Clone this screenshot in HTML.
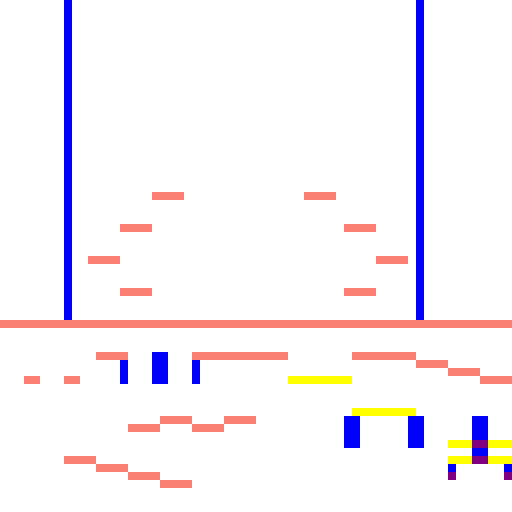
<!DOCTYPE html>
<html>
<head>
<meta charset="utf-8">
<style>
html,body{margin:0;padding:0;background:#fff;}
svg{display:block;}
</style>
</head>
<body>
<svg id="art" width="512" height="512" viewBox="0 0 512 512" shape-rendering="crispEdges">
<rect x="0" y="0" width="512" height="512" fill="#ffffff"/>
</svg>
<script>
const SAL = "#FA8072", BLU = "#0000FF", YEL = "#FFFF00", PUR = "#800080";
const blocks = [
  [64,0,8,320,BLU],[416,0,8,320,BLU],[0,320,512,8,SAL],
  [152,192,32,8,SAL],[120,224,32,8,SAL],[88,256,32,8,SAL],[120,288,32,8,SAL],
  [304,192,32,8,SAL],[344,224,32,8,SAL],[376,256,32,8,SAL],[344,288,32,8,SAL],
  [96,352,32,8,SAL],[120,360,8,24,BLU],[152,352,16,32,BLU],[192,352,96,8,SAL],[192,360,8,24,BLU],
  [24,376,16,8,SAL],[64,376,16,8,SAL],
  [160,416,32,8,SAL],[128,424,32,8,SAL],[192,424,32,8,SAL],[224,416,32,8,SAL],
  [64,456,32,8,SAL],[96,464,32,8,SAL],[128,472,32,8,SAL],[160,480,32,8,SAL],
  [288,376,64,8,YEL],
  [352,352,64,8,SAL],[416,360,32,8,SAL],[448,368,32,8,SAL],[480,376,32,8,SAL],
  [352,408,64,8,YEL],[344,416,16,32,BLU],[408,416,16,32,BLU],
  [472,416,16,24,BLU],[448,440,24,8,YEL],[472,440,16,8,PUR],[488,440,24,8,YEL],
  [472,448,16,8,BLU],[448,456,24,8,YEL],[472,456,16,8,PUR],[488,456,24,8,YEL],
  [448,464,8,8,BLU],[448,472,8,8,PUR],[504,464,8,8,BLU],[504,472,8,8,PUR]
];
const svg = document.getElementById('art');
blocks.forEach(b => {
  const r = document.createElementNS('http://www.w3.org/2000/svg','rect');
  r.setAttribute('x', b[0]); r.setAttribute('y', b[1]);
  r.setAttribute('width', b[2]); r.setAttribute('height', b[3]);
  r.setAttribute('fill', b[4]);
  
  
  svg.appendChild(r);
});
</script>
</body>
</html>
